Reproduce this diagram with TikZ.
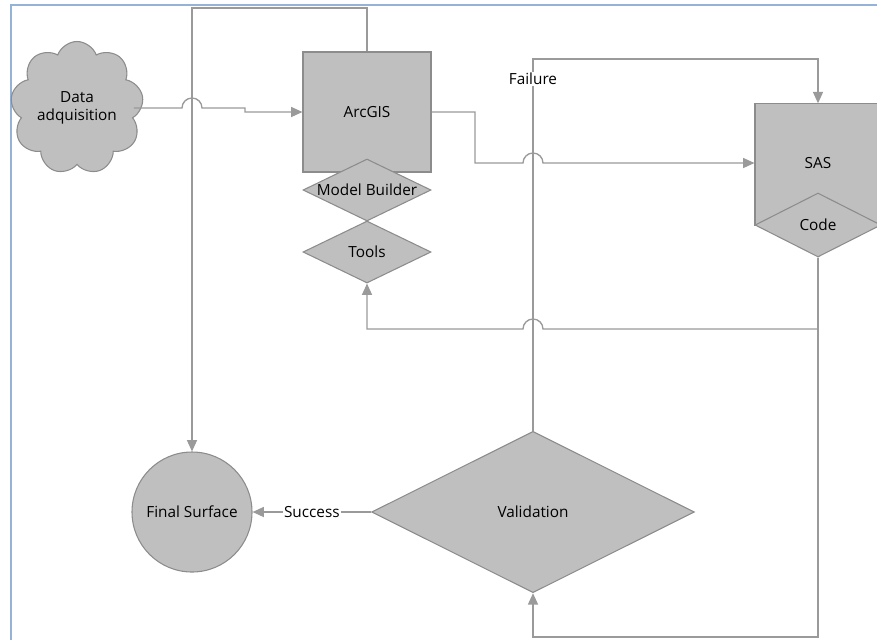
\documentclass[tikz,border=0pt]{standalone}
\usepackage{fontspec}
\setmainfont{Open Sans}
\usetikzlibrary{shapes.geometric,shapes.symbols,arrows.meta,calc}
\definecolor{shapefill}{HTML}{BFBFBF}
\definecolor{shapeline}{HTML}{8C8C8C}
\definecolor{wireline}{HTML}{9A9A9A}
\definecolor{frameblue}{HTML}{95B3D7}
\begin{document}
\begin{tikzpicture}[
    x=0.75pt,
    y=-0.75pt,
    every node/.style={font=\fontsize{11.5}{14}\selectfont, text=black},
    block/.style={draw=shapeline, fill=shapefill, line width=0.8pt, inner sep=0pt},
    boxblock/.style={block, rectangle},
    rhomb/.style={block, diamond},
    puff/.style={block, cloud, cloud puffs=9, cloud puff arc=140, align=center},
    disc/.style={block, circle, minimum size=90pt},
    flow/.style={draw=wireline, line width=1pt},
    arr/.style={flow, -{Triangle[length=8.5pt, width=7.5pt]}},
    tag/.style={fill=white, inner sep=1pt}
]
    \useasboundingbox (0,0) rectangle (877,640);
    \clip (0,0) rectangle (877,640);

    % frame
    \draw[frameblue, line width=1.5pt] (11,640) -- (11,5) -- (877,5);

    % nodes
    \node[puff, minimum width=92pt, minimum height=95pt] (data) at (77,108) {Data\\adquisition};
    \node[boxblock, minimum width=96pt, minimum height=90pt] (arcgis) at (367,112) {ArcGIS};
    \node[rhomb, minimum width=96pt, minimum height=46.5pt, label=center:Model Builder] (model) at (367,190) {};
    \node[rhomb, minimum width=96pt, minimum height=46.5pt, label=center:Tools] (tools) at (367,252) {};
    \node[boxblock, minimum width=94.5pt, minimum height=91pt] (sas) at (818,164.5) {};
    \node (sastext) at (818,163) {SAS};
    \node[rhomb, minimum width=94.5pt, minimum height=48pt, label=center:Code] (code) at (818,225) {};
    \node[disc] (final) at (192,512) {Final Surface};
    \node[rhomb, minimum width=242pt, minimum height=121pt, label=center:Validation] (valid) at (533,512) {};

    % helper points
    \coordinate (topwire) at (280,8);
    \coordinate (stepA) at (245,112);
    \coordinate (stepB) at (475,163);
    \coordinate (failtop) at (680,59);
    \coordinate (backwire) at (600,329);
    \coordinate (bottomwire) at (700,637);

    % connectors
    \draw[arr] ([xshift=-6pt]data.east) -- ($(data.east -| final.north)+(-10,0)$)
        arc[start angle=180, end angle=0, radius=7.5pt]
        -- (data.east -| stepA) -- (stepA) -- (arcgis.west);
    \draw[arr] (arcgis.north) |- (topwire -| final.north) -- (final.north);
    \draw[arr] (arcgis.east) -- (stepB |- arcgis.east) -- (stepB)
        -- ($(stepB -| valid.north)+(-10,0)$)
        arc[start angle=180, end angle=0, radius=7.5pt]
        -- (stepB -| sas.west);
    \draw[arr] (valid.north) -- node[tag, pos=0.946] {Failure} (valid.north |- failtop)
        -| (sas.north);
    \draw[arr] (code.south) -- (code.south |- backwire)
        -- ($(backwire -| valid.north)+(10,0)$)
        arc[start angle=0, end angle=180, radius=7.5pt]
        -- (backwire -| tools.south) -- (tools.south);
    \draw[arr] (code.south) -- (code.south |- bottomwire) -| (valid.south);
    \draw[arr] (valid.west) -- node[tag] {Success} (final.east);

\end{tikzpicture}
\end{document}
